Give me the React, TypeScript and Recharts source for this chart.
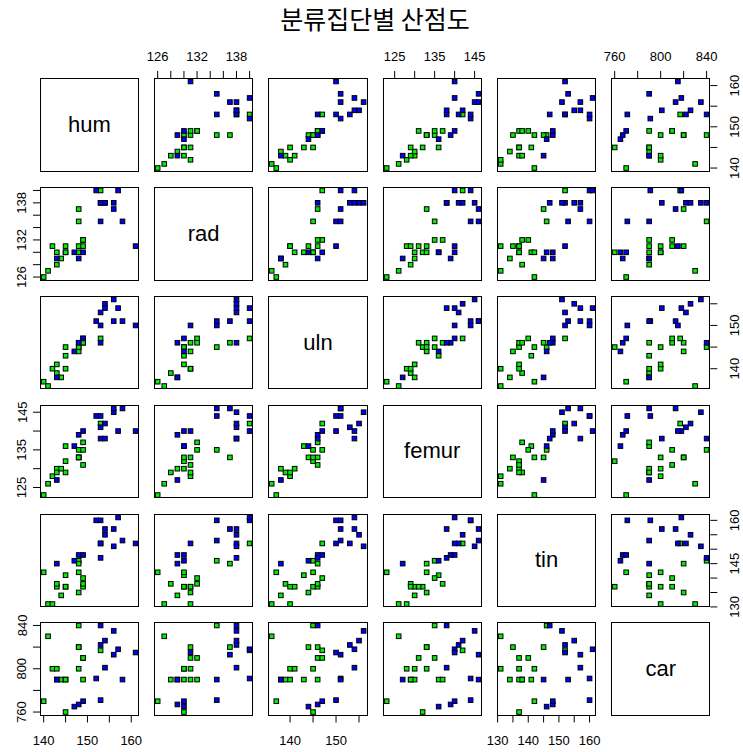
import { ScatterChart, Scatter, XAxis, YAxis } from "recharts";

// bone measurements, first 17 rows = cluster 1, last 15 rows = cluster 2
const hum = [140, 141, 142, 143, 143, 144, 145, 145, 145, 148, 148, 148, 149, 149, 148, 149, 153,
    143, 147, 148, 149, 152, 153, 153, 153, 154, 154, 156, 156, 157, 158, 161];
const rad = [126, 127, 131, 130, 128, 129, 130, 131, 130, 135, 137, 131, 131, 132, 130, 132, 140,
    129, 130, 129, 130, 140, 135, 138, 138, 138, 138, 138, 137, 140, 135, 131];
const uln = [137, 136, 140, 141, 139, 138, 143, 140, 145, 145, 146, 144, 146, 147, 145, 146, 147,
    138, 144, 146, 147, 151, 150, 153, 146, 155, 154, 156, 151, 154, 151, 150];
const femur = [123, 126, 128, 130, 129, 130, 136, 129, 132, 135, 133, 133, 131, 135, 133, 137, 142,
    127, 136, 139, 140, 144, 144, 141, 138, 142, 138, 145, 146, 140, 146, 140];
const tin = [142, 131, 131, 137, 138, 134, 141, 137, 137, 146, 145, 135, 137, 140, 142, 138, 152,
    145, 146, 148, 148, 160, 160, 152, 147, 155, 157, 151, 157, 161, 153, 152];
const car = [770, 830, 800, 800, 790, 790, 790, 790, 760, 840, 820, 820, 810, 810, 800, 790, 817,
    790, 765, 767, 770, 791, 771, 822, 840, 826, 801, 835, 813, 818, 790, 815];
const cluster = [1, 1, 1, 1, 1, 1, 1, 1, 1, 1, 1, 1, 1, 1, 1, 1, 1,
    2, 2, 2, 2, 2, 2, 2, 2, 2, 2, 2, 2, 2, 2, 2];

const varNames = ["hum", "rad", "uln", "femur", "tin", "car"];
const varValues = [hum, rad, uln, femur, tin, car];
const varTicks = [
    [140, 145, 150, 155, 160],
    [126, 128, 130, 132, 134, 136, 138, 140],
    [140, 145, 150, 155],
    [125, 130, 135, 140, 145],
    [130, 135, 140, 145, 150, 155, 160],
    [760, 780, 800, 820, 840],
];
const xTickLabels = [[140, 150, 160], [126, 132, 138], [140, 150], [125, 135, 145], [130, 140, 150, 160], [760, 800, 840]];
const yTickLabels = [[140, 150, 160], [126, 132, 138], [140, 150], [125, 135, 145], [130, 145, 160], [760, 800, 840]];

const TITLE = "분류집단별 산점도";
const COLORS: Record<number, string> = { 1: "#00ee00", 2: "#0000ff" };

const PANEL_W = 99.3;
const PANEL_H = 93.5;
const COL_STEP = 114.3;
const ROW_STEP = 108.8;
const LEFT = 39.7;
const TOP = 78.3;
const AXIS = 32;
const FONT = "'Liberation Sans', Arial, sans-serif";

function paddedDomain(v: number[]): [number, number] {
    const lo = Math.min(...v);
    const hi = Math.max(...v);
    const pad = (hi - lo) * 0.04;
    return [lo - pad, hi + pad];
}

const domains = varValues.map(paddedDomain);

function pointsFor(xi: number, yi: number, grp: number) {
    const out: { x: number; y: number }[] = [];
    for (let i = 0; i < cluster.length; i++) {
        if (cluster[i] === grp) out.push({ x: varValues[xi][i], y: varValues[yi][i] });
    }
    return out;
}

function SquareDot(props: any) {
    const { cx, cy, fill } = props;
    if (cx == null || cy == null) return null;
    return <rect x={cx - 2.3} y={cy - 2.3} width={4.6} height={4.6} fill={fill} stroke="#000" strokeWidth={1} />;
}

function makeTick(labels: number[], side: string, edge: number) {
    return (props: any) => {
        const { x, y, payload } = props;
        if (!labels.includes(payload.value)) return <g />;
        const style = { fontFamily: FONT, fontSize: 13, fill: "#000" };
        if (side === "top" || side === "bottom") {
            const ty = side === "top" ? edge - 21 : edge + 25;
            return (
                <text x={x} y={ty} textAnchor="middle" dominantBaseline="central" style={style}>
                    {payload.value}
                </text>
            );
        }
        const tx = side === "left" ? edge - 18 : edge + 24;
        return (
            <text x={tx} y={y} textAnchor="middle" dominantBaseline="central" transform={`rotate(-90, ${tx}, ${y})`} style={style}>
                {payload.value}
            </text>
        );
    };
}

function Panel({ row, col }: { row: number; col: number }) {
    const px = LEFT + col * COL_STEP;
    const py = TOP + row * ROW_STEP;
    const top = row === 0 && col % 2 === 1;
    const bottom = row === 5 && col % 2 === 0;
    const left = col === 0 && row % 2 === 1;
    const right = col === 5 && row % 2 === 0;
    const mt = top ? AXIS : 0;
    const mb = bottom ? AXIS : 0;
    const ml = left ? AXIS : 0;
    const mr = right ? AXIS : 0;
    const w = PANEL_W + ml + mr;
    const h = PANEL_H + mt + mb;

    return (
        <>
            <div style={{ position: "absolute", left: px - ml, top: py - mt, width: w, height: h }}>
                <ScatterChart width={w} height={h} margin={{ top: 0, right: 0, bottom: 0, left: 0 }}>
                    <XAxis
                        type="number"
                        dataKey="x"
                        domain={domains[col]}
                        allowDataOverflow
                        hide={!top && !bottom}
                        orientation={top ? "top" : "bottom"}
                        height={AXIS}
                        ticks={varTicks[col]}
                        interval={0}
                        axisLine={false}
                        tickSize={7}
                        tickLine={{ stroke: "#000", strokeWidth: 1 }}
                        tick={makeTick(xTickLabels[col], top ? "top" : "bottom", top ? mt : PANEL_H)}
                    />
                    <YAxis
                        type="number"
                        dataKey="y"
                        domain={domains[row]}
                        allowDataOverflow
                        hide={!left && !right}
                        orientation={left ? "left" : "right"}
                        width={AXIS}
                        ticks={varTicks[row]}
                        interval={0}
                        axisLine={false}
                        tickSize={7}
                        tickLine={{ stroke: "#000", strokeWidth: 1 }}
                        tick={makeTick(yTickLabels[row], left ? "left" : "right", left ? ml : PANEL_W)}
                    />
                    <Scatter data={pointsFor(col, row, 1)} fill={COLORS[1]} shape={SquareDot} isAnimationActive={false} />
                    <Scatter data={pointsFor(col, row, 2)} fill={COLORS[2]} shape={SquareDot} isAnimationActive={false} />
                </ScatterChart>
            </div>
            <div style={{ position: "absolute", left: px, top: py, width: PANEL_W, height: PANEL_H, border: "1px solid #000", boxSizing: "border-box", pointerEvents: "none" }} />
        </>
    );
}

function DiagonalPanel({ index }: { index: number }) {
    const px = LEFT + index * COL_STEP;
    const py = TOP + index * ROW_STEP;
    return (
        <div
            style={{
                position: "absolute",
                left: px,
                top: py,
                width: PANEL_W,
                height: PANEL_H,
                border: "1px solid #000",
                boxSizing: "border-box",
                display: "flex",
                alignItems: "center",
                justifyContent: "center",
                fontFamily: FONT,
                fontSize: 22,
                color: "#000",
            }}
        >
            {varNames[index]}
        </div>
    );
}

export default function App() {
    const cells = [];
    for (let r = 0; r < 6; r++) {
        for (let c = 0; c < 6; c++) {
            if (r === c) cells.push(<DiagonalPanel key={`${r}-${c}`} index={r} />);
            else cells.push(<Panel key={`${r}-${c}`} row={r} col={c} />);
        }
    }
    return (
        <div style={{ position: "absolute", left: 0, top: 0, width: 743, height: 752, background: "#fff", overflow: "hidden" }}>
            <style>{`.recharts-surface { overflow: visible; } .recharts-wrapper { overflow: visible; }`}</style>
            <div
                style={{
                    position: "absolute",
                    left: 0,
                    top: 0,
                    width: 750,
                    textAlign: "center",
                    fontFamily: "'Noto Sans CJK KR', sans-serif",
                    fontSize: 25,
                    lineHeight: "36px",
                    color: "#000",
                }}
            >
                {TITLE}
            </div>
            {cells}
        </div>
    );
}
